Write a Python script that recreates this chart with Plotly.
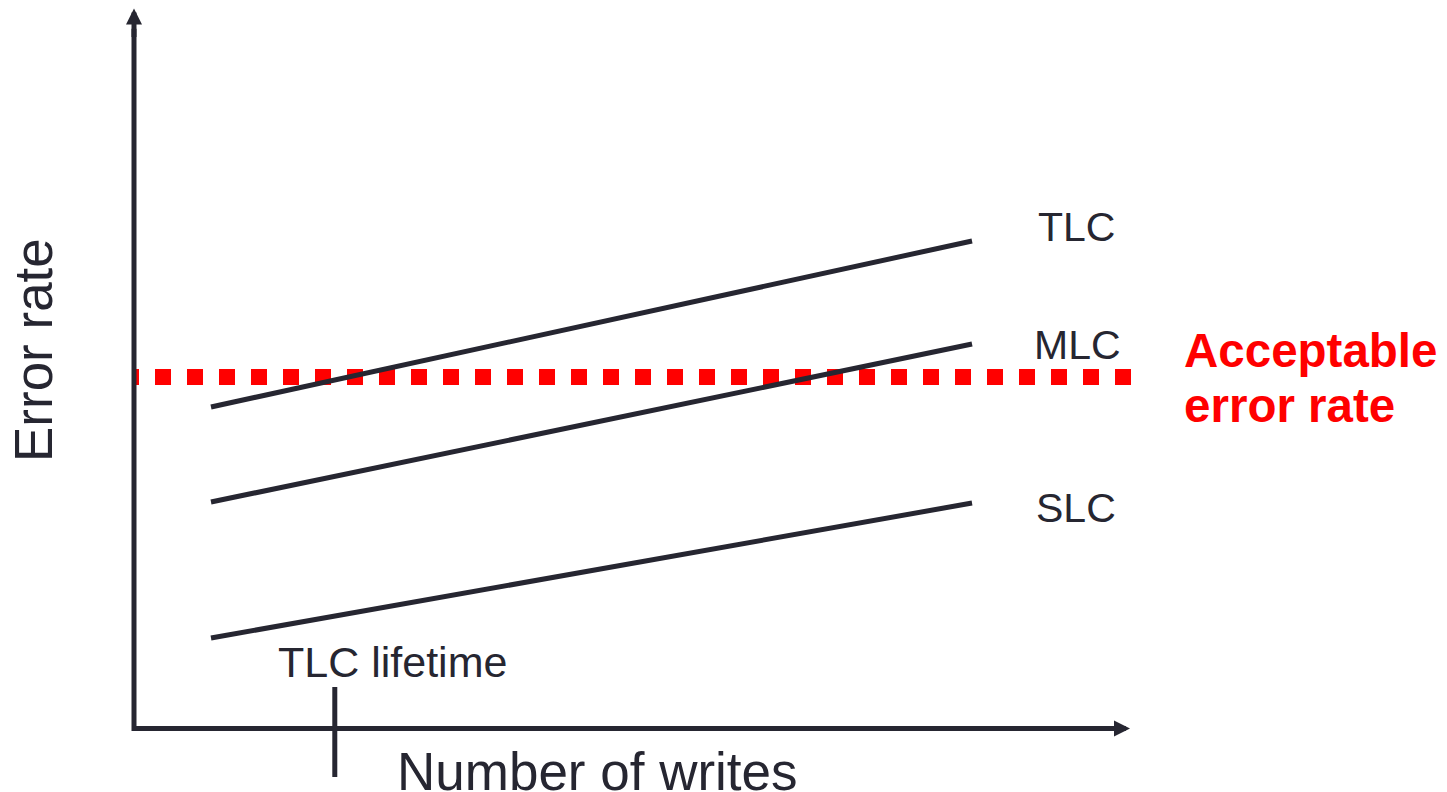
import plotly.graph_objects as go

# ---- data (arbitrary units: writes 0-100, error rate 0-100) ----
series_names = ["TLC", "MLC", "SLC"]
writes = [7.73, 84.14]
tlc_error = [44.56, 67.57]
mlc_error = [31.39, 53.29]
slc_error = [12.54, 31.25]
acceptable_rate = 48.72
acceptable_span = [0.0, 100.1]
tlc_lifetime = 20.16
tlc_lifetime_tick = [5.75, -6.72]

INK = "#262631"
RED = "#ff0000"
FONT = "Liberation Sans, Arial, sans-serif"

fig = go.Figure()

# acceptable error rate threshold (dotted red: 16px squares, 16px gaps)
dot_pattern = "5px,16px" + ",16px,16px" * 31
fig.add_trace(go.Scatter(
    x=acceptable_span, y=[acceptable_rate, acceptable_rate], mode="lines",
    line=dict(color=RED, width=16, dash=dot_pattern), hoverinfo="skip", showlegend=False))

for name, ys in zip(series_names, [tlc_error, mlc_error, slc_error]):
    fig.add_trace(go.Scatter(
        x=writes, y=ys, mode="lines", name=name,
        line=dict(color=INK, width=5), showlegend=False))

# TLC lifetime tick
fig.add_trace(go.Scatter(
    x=[tlc_lifetime, tlc_lifetime], y=tlc_lifetime_tick, mode="lines",
    line=dict(color=INK, width=5), hoverinfo="skip", showlegend=False))

# axes drawn as arrows
fig.add_shape(type="path", path="M 0 97 L 0 0 L 98 0", xref="x", yref="y",
              line=dict(color=INK, width=5), layer="above")
arrow = dict(xref="x", yref="y", text="", showarrow=True, arrowhead=2,
             arrowsize=0.64, arrowwidth=5, arrowcolor=INK, axref="pixel", ayref="pixel")
fig.add_annotation(x=0, y=99.8, ax=0, ay=30, **arrow)
fig.add_annotation(x=100, y=0, ax=-30, ay=0, **arrow)

def label(text, x, y, size, color=INK, bold=False, xanchor="center", angle=0):
    t = f"<b>{text}</b>" if bold else text
    fig.add_annotation(x=x, y=y, xref="x", yref="y", text=t, showarrow=False,
                       xanchor=xanchor, yanchor="middle", textangle=angle,
                       font=dict(family=FONT, size=size, color=color))

label("TLC", 94.58, 69.55, 41)
label("MLC", 94.68, 53.19, 41)
label("SLC", 94.58, 30.56, 41)
label("TLC lifetime", 26.0, 9.22, 43)
label("Error rate", -10.14, 52.46, 53, angle=-90)
label("Number of writes", 46.49, -5.89, 53)
label("Acceptable", 105.2, 52.46, 47.5, color=RED, bold=True, xanchor="left")
label("error rate", 105.2, 44.7, 47.5, color=RED, bold=True, xanchor="left")

# the page body has an 8px margin, so the figure is 8px smaller and offset
W, H = 1439, 784
x_px_per_unit = 9.96
y_px_per_unit = 7.215
x0_px, y0_px = 126, 720.5
fig.update_layout(
    width=W, height=H, margin=dict(l=0, r=0, t=0, b=0),
    paper_bgcolor="white", plot_bgcolor="white",
    xaxis=dict(range=[-x0_px / x_px_per_unit, (W - x0_px) / x_px_per_unit],
               visible=False, fixedrange=True),
    yaxis=dict(range=[-(H - y0_px) / y_px_per_unit, y0_px / y_px_per_unit],
               visible=False, fixedrange=True),
)
fig.write_html("out.html")
